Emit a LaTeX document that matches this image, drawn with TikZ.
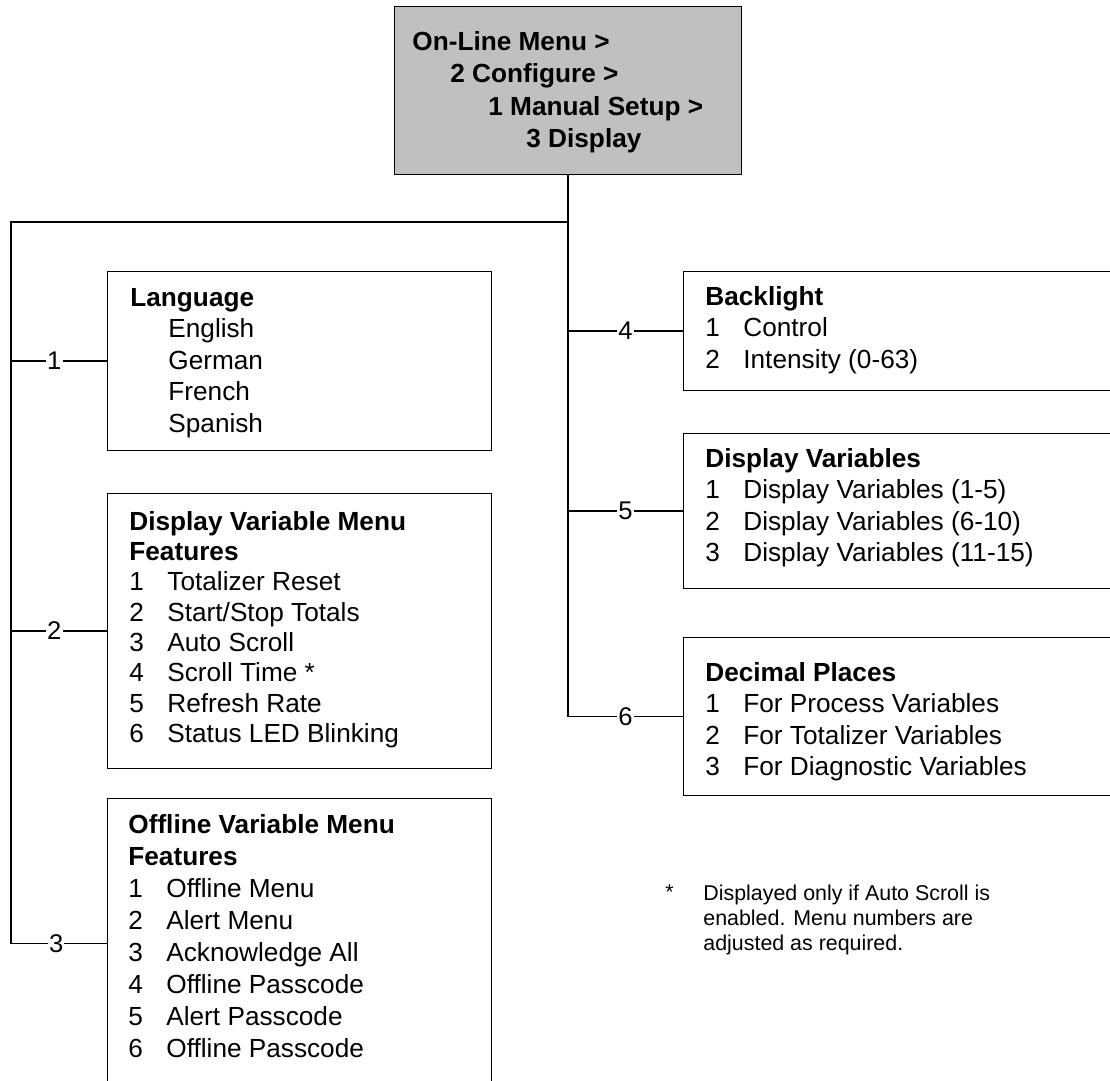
\documentclass[tikz,border=0pt]{standalone}
\usepackage{fontspec}
\setmainfont{Liberation Sans}
\usetikzlibrary{calc,positioning}

\definecolor{menugray}{HTML}{C0C0C0}
\tikzset{
  menubox/.style={draw, line width=0.5pt, anchor=north west, inner sep=0pt},
  menutext/.style={anchor=north west, inner sep=0pt, align=left,
    font=\fontsize{13.1}{15.75}\selectfont},
  spine/.style={line width=1.1pt},
  branch/.style={line width=0.55pt},
  num/.style={fill=white, inner sep=0.6pt, font=\fontsize{12.8}{14}\selectfont}
}
\newcommand{\itm}[2]{\makebox[19pt][l]{#1}#2}

\begin{document}
\begin{tikzpicture}[x=0.5pt, y=-0.5pt]
  \useasboundingbox (0,0) rectangle (1110,1081);
  \clip (0,0) rectangle (1110,1081);
  % menu path
  \node (top) at (394,6) [menubox, fill=menugray, minimum width=173.5pt, minimum height=84pt] {};
  \node (topTxt) at ($(top.north west)+(18,25)$) [menutext, font=\fontsize{13.1}{16.25}\selectfont\bfseries]
    {On-Line Menu >\\ \hspace*{19pt}2 Configure >\\ \hspace*{38pt}1 Manual Setup >\\ \hspace*{57pt}3 Display};
  % left column
  \node (lang) at (107,271) [menubox, minimum width=192pt, minimum height=89.5pt] {};
  \node (langTxt) at ($(lang.north west)+(23,17)$) [menutext]
    {\textbf{Language}\\ \itm{}{English}\\ \itm{}{German}\\ \itm{}{French}\\ \itm{}{Spanish}};
  \node (dvmf) at (107,493) [menubox, minimum width=192pt, minimum height=137.5pt] {};
  \node (dvmfTxt) at ($(dvmf.north west)+(22,18)$) [menutext, font=\fontsize{13.1}{15.15}\selectfont]
    {\textbf{Display Variable Menu}\\ \textbf{Features}\\ \itm{1}{Totalizer Reset}\\ \itm{2}{Start/Stop Totals}\\
     \itm{3}{Auto Scroll}\\ \itm{4}{Scroll Time *}\\ \itm{5}{Refresh Rate}\\ \itm{6}{Status LED Blinking}};
  \node (offl) at (107,798) [menubox, minimum width=192pt, minimum height=145pt] {};
  \node (offlTxt) at ($(offl.north west)+(21,16)$) [menutext, font=\fontsize{13.1}{16}\selectfont]
    {\textbf{Offline Variable Menu}\\ \textbf{Features}\\ \itm{1}{Offline Menu}\\ \itm{2}{Alert Menu}\\
     \itm{3}{Acknowledge All}\\ \itm{4}{Offline Passcode}\\ \itm{5}{Alert Passcode}\\ \itm{6}{Offline Passcode}};
  % right column
  \node (back) at (683,271) [menubox, minimum width=221pt, minimum height=59.5pt] {};
  \node (backTxt) at ($(back.north west)+(22,15)$) [menutext]
    {\textbf{Backlight}\\ \itm{1}{Control}\\ \itm{2}{Intensity (0-63)}};
  \node (dvar) at (683,433) [menubox, minimum width=221pt, minimum height=77.5pt] {};
  \node (dvarTxt) at ($(dvar.north west)+(22,15)$) [menutext]
    {\textbf{Display Variables}\\ \itm{1}{Display Variables (1-5)}\\ \itm{2}{Display Variables (6-10)}\\ \itm{3}{Display Variables (11-15)}};
  \node (deci) at (683,637) [menubox, minimum width=221pt, minimum height=79pt] {};
  \node (deciTxt) at ($(deci.north west)+(22,25)$) [menutext]
    {\textbf{Decimal Places}\\ \itm{1}{For Process Variables}\\ \itm{2}{For Totalizer Variables}\\ \itm{3}{For Diagnostic Variables}};
  % footnote
  \node (star) at (665,884) [anchor=north west, inner sep=0pt, font=\fontsize{10.7}{12.5}\selectfont] {*};
  \node (note) at (703,885) [menutext, font=\fontsize{10.7}{12.5}\selectfont]
    {Displayed only if Auto Scroll is\\ enabled. Menu numbers are\\ adjusted as required.};
  % connectors
  \coordinate (split) at (top.south |- 0,222);
  \coordinate (lspine) at (11,222);
  \draw[spine] (top.south) -- (top.south |- deci.west);
  \draw[spine] (split) -- (lspine) -- (lspine |- offl.west);
  \draw[branch] (lspine |- lang.west) -- node[num, pos=0.45] {1} (lang.west);
  \draw[branch] (lspine |- dvmf.west) -- node[num, pos=0.45] {2} (dvmf.west);
  \draw[branch] (lspine |- offl.west) -- node[num, pos=0.47] {3} (offl.west);
  \draw[branch] (top.south |- back.west) -- node[num] {4} (back.west);
  \draw[branch] (top.south |- dvar.west) -- node[num] {5} (dvar.west);
  \draw[branch] (top.south |- deci.west) -- node[num] {6} (deci.west);
\end{tikzpicture}
\end{document}
